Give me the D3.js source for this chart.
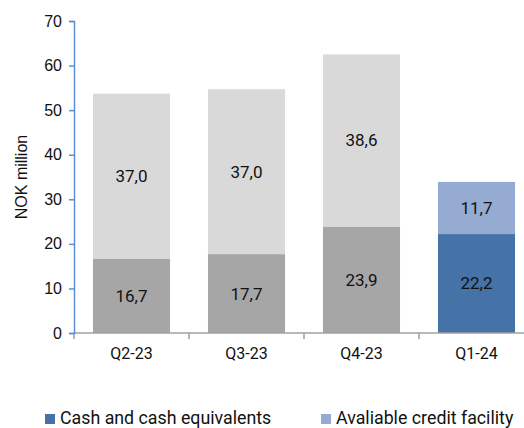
<!DOCTYPE html>
<html>
<head>
<meta charset="utf-8">
<script src="https://cdn.jsdelivr.net/npm/d3@7"></script>
<style>
  body { margin: 0; background: #fff; }
  svg { display: block; }
</style>
</head>
<body>
<div id="chart"></div>
<script>
// data
var quarters = ["Q2-23", "Q3-23", "Q4-23", "Q1-24"];
var cash = [16.7, 17.7, 23.9, 22.2];
var credit = [37.0, 37.0, 38.6, 11.7];
var highlight = [false, false, false, true];
var yTicks = [0, 10, 20, 30, 40, 50, 60, 70];
var legendLabels = ["Cash and cash equivalents", "Avaliable credit facility"];

var width = 524, height = 428;
var margin = {top: 21, right: -10, bottom: 95, left: 74};

var svg = d3.select("#chart").append("svg")
    .attr("width", width)
    .attr("height", height);

var x = d3.scaleBand()
    .domain(quarters)
    .range([margin.left, width - margin.right])
    .paddingInner(0.33)
    .paddingOuter(0.165);

var y = d3.scaleLinear()
    .domain([0, 70])
    .range([height - margin.bottom, margin.top]);

var colCash = ["#a6a6a6", "#4572a7"];
var colCredit = ["#d9d9d9", "#96abd2"];

var rows = quarters.map(function(q, i) {
    return {q: q, cash: cash[i], credit: credit[i], hl: highlight[i]};
});

// bars
var g = svg.append("g");
g.selectAll(".cash").data(rows).enter().append("rect")
    .attr("x", function(d) { return x(d.q); })
    .attr("width", x.bandwidth())
    .attr("y", function(d) { return y(d.cash); })
    .attr("height", function(d) { return y(0) - y(d.cash); })
    .attr("fill", function(d) { return d.hl ? colCash[1] : colCash[0]; });

g.selectAll(".credit").data(rows).enter().append("rect")
    .attr("x", function(d) { return x(d.q); })
    .attr("width", x.bandwidth())
    .attr("y", function(d) { return y(d.cash + d.credit); })
    .attr("height", function(d) { return y(d.cash) - y(d.cash + d.credit); })
    .attr("fill", function(d) { return d.hl ? colCredit[1] : colCredit[0]; });

var fmt = function(v) { return v.toFixed(1).replace(".", ","); };

// value labels
g.selectAll(".lc").data(rows).enter().append("text")
    .attr("x", function(d) { return x(d.q) + x.bandwidth() / 2; })
    .attr("y", function(d) { return y(d.cash / 2); })
    .attr("dy", "0.35em")
    .attr("text-anchor", "middle")
    .style("font", "17px Roboto")
    .attr("fill", "#111")
    .text(function(d) { return fmt(d.cash); });

g.selectAll(".lk").data(rows).enter().append("text")
    .attr("x", function(d) { return x(d.q) + x.bandwidth() / 2; })
    .attr("y", function(d) { return y(d.cash + d.credit / 2); })
    .attr("dy", "0.35em")
    .attr("text-anchor", "middle")
    .style("font", "17px Roboto")
    .attr("fill", "#111")
    .text(function(d) { return fmt(d.credit); });

// x axis
var xAxis = svg.append("g")
    .attr("transform", "translate(0," + y(0) + ")");
xAxis.append("line")
    .attr("x1", margin.left).attr("x2", width)
    .attr("stroke", "#a0a0a0").attr("stroke-width", 1.5);
var step = x.step();
xAxis.selectAll(".tk").data(quarters).enter().append("line")
    .attr("x1", function(d) { return x(d) - step * x.paddingInner() / 2; })
    .attr("x2", function(d) { return x(d) - step * x.paddingInner() / 2; })
    .attr("y1", 0).attr("y2", 6)
    .attr("stroke", "#a0a0a0").attr("stroke-width", 1.5);
xAxis.selectAll(".xl").data(quarters).enter().append("text")
    .attr("x", function(d) { return x(d) + x.bandwidth() / 2; })
    .attr("y", 26)
    .attr("text-anchor", "middle")
    .style("font", "16px Roboto")
    .attr("fill", "#111")
    .text(function(d) { return d; });

// y axis
var yAxis = svg.append("g")
    .attr("transform", "translate(" + margin.left + ",0)")
    .call(d3.axisLeft(y).tickValues(yTicks).tickSize(5).tickSizeOuter(5).tickPadding(7));
yAxis.select(".domain").attr("stroke", "#5b8fd6").attr("stroke-width", 1.5);
yAxis.selectAll(".tick line").attr("stroke", "#5b8fd6").attr("stroke-width", 1.5);
yAxis.selectAll(".tick text")
    .style("font", "16px 'Liberation Sans', Arial, sans-serif")
    .attr("fill", "#111");

svg.append("text")
    .attr("transform", "translate(27," + y(35) + ") rotate(-90)")
    .attr("text-anchor", "middle")
    .style("font", "16px 'Liberation Sans', Arial, sans-serif")
    .attr("fill", "#111")
    .text("NOK million");

// legend
var legend = svg.append("g");
var lx = [45, 321];
legendLabels.forEach(function(t, i) {
    legend.append("rect")
        .attr("x", lx[i]).attr("y", 414)
        .attr("width", 10).attr("height", 10)
        .attr("fill", i === 0 ? colCash[1] : colCredit[1]);
    legend.append("text")
        .attr("x", lx[i] + 15).attr("y", 424)
        .style("font", "17.8px Roboto")
        .attr("fill", "#111")
        .text(t);
});
</script>
</body>
</html>
